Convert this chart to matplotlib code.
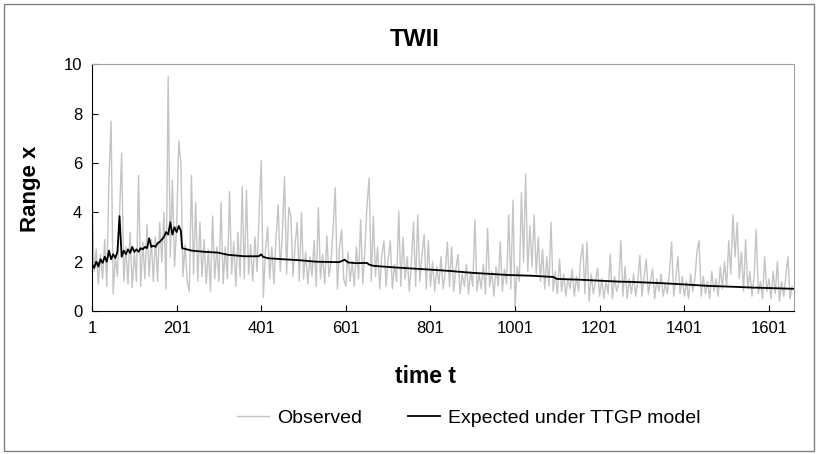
import matplotlib
matplotlib.use("Agg")
import matplotlib.pyplot as plt
import numpy as np
from matplotlib.patches import Rectangle

# observed daily range, every 5 steps (t = 1, 6, 11, ...)
observed = [
    4.8, 1.6, 2.5, 1.1, 2.3, 1.3, 2.9, 1.0, 5.4, 7.7, 0.7, 2.2, 1.4, 3.9, 6.4, 1.2, 2.6, 1.1, 3.2, 0.95,
    2.4, 1.2, 5.5, 1.0, 2.8, 1.3, 3.5, 1.4, 2.9, 1.2, 3.0, 1.2, 3.6, 2.0, 4.0, 0.9, 9.5, 2.2, 5.3, 1.8,
    3.4, 6.9, 6.0, 1.4, 2.7, 1.2, 0.8, 5.5, 1.5, 4.4, 1.2, 3.6, 1.4, 2.9, 1.1, 2.5, 0.8, 3.85, 1.3, 2.6,
    1.2, 4.4, 1.1, 2.6, 1.3, 4.85, 1.5, 2.8, 1.0, 3.2, 1.4, 5.05, 1.3, 4.9, 1.5, 2.7, 1.2, 3.0, 1.6, 4.0,
    6.1, 0.55, 2.5, 3.4, 1.3, 2.6, 1.1, 3.0, 4.3, 1.6, 3.2, 5.45, 1.5, 4.2, 3.85, 1.4, 2.7, 3.6, 1.2, 4.0,
    1.3, 2.4, 1.1, 2.2, 1.4, 2.85, 1.0, 4.2, 1.3, 2.3, 1.1, 3.05, 1.4, 2.0, 3.35, 5.0, 0.9, 2.6, 3.3, 1.3,
    1.0, 2.4, 1.2, 2.0, 1.0, 2.6, 1.3, 3.7, 1.1, 2.5, 4.3, 5.4, 1.2, 3.85, 1.4, 2.6, 0.9, 2.3, 2.85, 1.0,
    2.1, 2.85, 0.9, 1.9, 1.2, 4.05, 1.0, 3.0, 1.3, 2.2, 0.8, 2.0, 3.6, 1.0, 3.9, 1.2, 2.3, 3.1, 0.9, 2.85,
    1.0, 2.0, 0.8, 1.8, 1.1, 2.2, 0.9, 1.6, 2.8, 1.0, 2.6, 0.8, 1.7, 2.3, 0.7, 1.5, 1.0, 1.9, 0.7, 1.6,
    1.0, 3.7, 0.8, 1.5, 0.9, 1.9, 0.7, 3.35, 1.0, 1.6, 0.6, 1.8, 1.0, 2.8, 0.8, 1.7, 1.1, 3.9, 0.9, 4.5,
    0.2, 1.8, 1.2, 4.8, 2.0, 5.55, 1.6, 3.45, 1.8, 3.9, 1.5, 3.0, 1.2, 2.5, 0.9, 2.2, 1.0, 3.6, 0.8, 1.6,
    0.7, 2.1, 0.8, 1.5, 0.6, 1.3, 0.9, 1.7, 0.6, 1.4, 0.8, 2.1, 2.7, 0.7, 2.8, 0.4, 1.5, 0.7, 1.2, 1.73,
    0.6, 1.3, 0.5, 1.2, 0.7, 2.3, 0.5, 1.4, 0.8, 1.1, 2.85, 0.6, 1.8, 0.5, 1.3, 0.7, 1.5, 0.6, 1.2, 2.25,
    0.6, 1.4, 2.1, 0.7, 1.2, 1.7, 0.5, 1.3, 0.8, 1.5, 0.6, 1.1, 0.7, 1.6, 2.8, 0.6, 1.3, 2.2, 0.7, 1.4,
    0.6, 1.2, 0.5, 1.5, 0.8, 1.3, 2.4, 2.85, 0.6, 1.4, 0.7, 1.2, 0.5, 1.6, 0.8, 1.3, 0.6, 1.8, 0.9, 2.0,
    1.0, 2.85, 1.5, 3.9, 2.2, 3.6, 1.3, 2.4, 0.8, 2.9, 0.9, 1.6, 0.6, 1.4, 3.3, 0.7, 1.2, 0.5, 2.2, 0.8,
    1.3, 0.5, 1.6, 0.7, 2.0, 0.4, 1.2, 0.6, 1.4, 2.2, 0.5, 1.0,
]
obs_t = np.arange(len(observed)) * 5 + 1

# expected range under the TTGP model
exp_t = [
    1, 6, 11, 16, 21, 26, 31, 36, 41, 46, 51, 56, 61, 66, 71, 76, 81, 86, 91, 96,
    101, 106, 111, 116, 121, 126, 131, 136, 141, 146, 151, 156, 161, 166, 171, 176, 181, 186, 191, 196,
    201, 206, 211, 214, 236, 267, 298, 322, 361, 395, 401, 405, 417, 451, 491, 530, 585, 598, 606, 624,
    651, 656, 667, 714, 761, 808, 850, 898, 985, 1040, 1091, 1100, 1153, 1212, 1248, 1275, 1346, 1409,
    1456, 1520, 1562, 1660,
]
expected = [
    1.9, 1.75, 2.0, 1.8, 2.1, 1.95, 2.2, 2.0, 2.45, 2.1, 2.3, 2.15, 2.4, 3.85, 2.2, 2.45, 2.3, 2.5, 2.35, 2.6,
    2.4, 2.5, 2.4, 2.55, 2.5, 2.6, 2.55, 2.95, 2.6, 2.65, 2.6, 2.75, 2.8, 2.9, 3.0, 3.2, 3.1, 3.6, 3.1, 3.4,
    3.2, 3.45, 3.25, 2.55, 2.45, 2.4, 2.37, 2.28, 2.22, 2.22, 2.3, 2.2, 2.14, 2.1, 2.06, 2.0, 1.98, 2.08, 1.97, 1.94,
    1.95, 1.88, 1.83, 1.77, 1.72, 1.67, 1.62, 1.55, 1.46, 1.43, 1.38, 1.3, 1.27, 1.22, 1.19, 1.18, 1.13, 1.07,
    1.02, 0.98, 0.95, 0.9,
]

x_ticks = [1, 201, 401, 601, 801, 1001, 1201, 1401, 1601]
y_ticks = [0, 2, 4, 6, 8, 10]

plt.rcParams["font.family"] = ["Liberation Sans", "DejaVu Sans"]

fig = plt.figure(figsize=(8.18, 4.54), dpi=100)
fig.patches.append(Rectangle((0.005, 0.007), 0.99, 0.985, transform=fig.transFigure,
                             fill=False, edgecolor="#808080", linewidth=1.0))

ax = fig.add_axes([0.1125, 0.315, 0.858, 0.543])
ax.plot(obs_t, observed, color="#c4c4c4", linewidth=1.0, label="Observed")
ax.plot(exp_t, expected, color="black", linewidth=1.3, label="Expected under TTGP model")

ax.set_xlim(1, 1660)
ax.set_ylim(0, 10)
ax.set_xticks(x_ticks)
ax.set_yticks(y_ticks)
ax.tick_params(direction="in", length=4, labelsize=12, pad=7)
for side in ["top", "right"]:
    ax.spines[side].set_color("#a0a0a0")
for side in ["left", "bottom"]:
    ax.spines[side].set_color("black")

fig.text(0.507, 0.912, "TWII", ha="center", va="center", fontsize=17, fontweight="bold")
fig.text(0.037, 0.584, "Range x", ha="center", va="center", rotation=90,
         fontsize=16, fontweight="bold")
fig.text(0.52, 0.17, "time t", ha="center", va="center", fontsize=16.5, fontweight="bold")

fig.legend(loc="center", bbox_to_anchor=(0.573, 0.079), ncol=2, frameon=False,
           fontsize=14, handlelength=1.65, handletextpad=0.4, columnspacing=2.4)

fig.savefig("out.png", dpi=100)
